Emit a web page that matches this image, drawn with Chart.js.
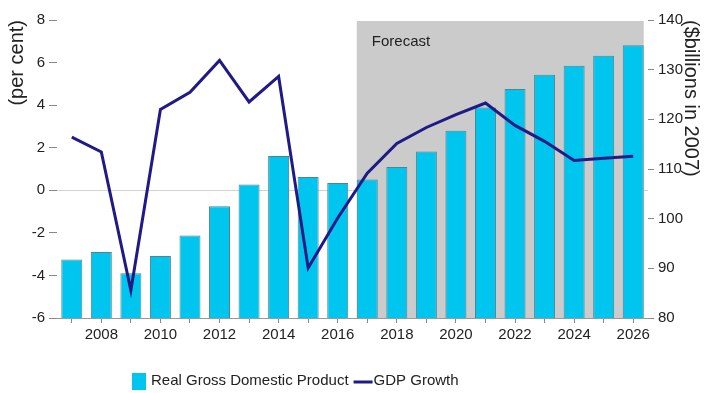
<!DOCTYPE html>
<html>
<head>
  <meta charset="utf-8">
  <script src="https://cdn.jsdelivr.net/npm/chart.js"></script>
  <style>
    body { margin: 0; background: #fff; }
  </style>
</head>
<body>
  <canvas id="gdpChart" width="704" height="393"></canvas>

  <script>
    // Years along the x axis
    var years = ['2007', '2008', '2009', '2010', '2011', '2012', '2013', '2014', '2015', '2016',
                 '2017', '2018', '2019', '2020', '2021', '2022', '2023', '2024', '2025', '2026'];

    // Real GDP, $billions in 2007 (right axis)
    var realGdp = [91.8, 93.3, 89.0, 92.5, 96.6, 102.5, 106.9, 112.6, 108.4, 107.2,
                   107.9, 110.4, 113.5, 117.7, 122.4, 126.1, 129.0, 130.8, 132.8, 134.9];

    // GDP growth, per cent (left axis)
    var gdpGrowth = [2.5, 1.8, -4.7, 3.8, 4.6, 6.1, 4.15, 5.35, -3.65, -1.3,
                     0.8, 2.2, 2.95, 3.55, 4.1, 3.05, 2.3, 1.4, 1.5, 1.6];

    // Axis ranges: [min, max, step]
    var growthAxis = [-6, 8, 2];
    var gdpAxis = [80, 140, 10];

    // Forecast period starts here
    var forecastStart = '2017';

    var FONT = '"Liberation Sans", Arial, sans-serif';
    var TEXT = '#222';
    Chart.defaults.font.family = FONT;
    Chart.defaults.color = TEXT;

    // Grey band behind the forecast years, with its label
    var forecastShade = {
      id: 'forecastShade',
      beforeDatasetsDraw: function(chart) {
        var meta = chart.getDatasetMeta(1);
        var first = meta.data[years.indexOf(forecastStart)];
        var last = meta.data[meta.data.length - 1];
        var area = chart.chartArea;
        var ctx = chart.ctx;
        var x0 = first.x - first.width / 2;
        var x1 = last.x + last.width / 2;
        ctx.save();
        ctx.fillStyle = '#cbcbcb';
        ctx.fillRect(x0, area.top + 1, x1 - x0, area.bottom - area.top - 1);
        ctx.fillStyle = TEXT;
        ctx.font = '15px ' + FONT;
        ctx.textBaseline = 'middle';
        ctx.fillText('Forecast', x0 + 15, area.top + 22);
        ctx.restore();
      }
    };

    // One-row legend under the x axis
    var bottomLegend = {
      id: 'bottomLegend',
      afterDraw: function(chart) {
        var line = chart.data.datasets[0];
        var bars = chart.data.datasets[1];
        var ctx = chart.ctx;
        var x = 132, y = 381;
        ctx.save();
        ctx.font = '15px ' + FONT;
        ctx.textBaseline = 'middle';
        ctx.fillStyle = bars.backgroundColor;
        ctx.fillRect(x, y - 8, 14, 17);
        x += 19;
        ctx.fillStyle = TEXT;
        ctx.fillText(bars.label, x, y);
        x += ctx.measureText(bars.label).width + 5;
        ctx.strokeStyle = line.borderColor;
        ctx.lineWidth = 3;
        ctx.beginPath();
        ctx.moveTo(x, y + 1);
        ctx.lineTo(x + 19, y + 1);
        ctx.stroke();
        x += 20;
        ctx.fillText(line.label, x, y);
        ctx.restore();
      }
    };

    new Chart(document.getElementById('gdpChart'), {
      type: 'bar',
      data: {
        labels: years,
        datasets: [{
          type: 'line',
          label: 'GDP Growth',
          data: gdpGrowth,
          yAxisID: 'y',
          borderColor: '#1f1a86',
          borderWidth: 3,
          pointRadius: 0,
          tension: 0,
          order: 1
        }, {
          label: 'Real Gross Domestic Product',
          data: realGdp,
          yAxisID: 'y1',
          backgroundColor: '#00c5ee',
          borderColor: '#4d8594',
          borderWidth: 1,
          barPercentage: 0.71,
          categoryPercentage: 1,
          order: 2
        }]
      },
      options: {
        responsive: false,
        animation: false,
        layout: { padding: { top: 20 } },
        plugins: {
          legend: { display: false },
          tooltip: { enabled: false }
        },
        scales: {
          x: {
            offset: true,
            grid: { offset: false, drawOnChartArea: false, tickLength: 5, tickColor: '#888' },
            border: { color: '#999' },
            ticks: {
              autoSkip: false,
              maxRotation: 0,
              padding: 3,
              font: { size: 15 },
              callback: function(value, index) {
                return index % 2 === 1 ? years[index] : '';
              }
            },
            afterFit: function(scale) { scale.height = 75; }
          },
          y: {
            position: 'left',
            min: growthAxis[0],
            max: growthAxis[1],
            ticks: { stepSize: growthAxis[2], padding: 4, font: { size: 15 } },
            grid: {
              color: function(ctx) { return ctx.tick && ctx.tick.value === 0 ? '#d2d2d2' : 'transparent'; },
              tickColor: '#888',
              tickLength: 8
            },
            border: { display: false },
            title: {
              display: true,
              text: '(per cent)',
              align: 'end',
              font: { size: 20 },
              padding: { top: 5, bottom: 0 }
            },
            afterFit: function(scale) { scale.width = 57; }
          },
          y1: {
            position: 'right',
            min: gdpAxis[0],
            max: gdpAxis[1],
            ticks: { stepSize: gdpAxis[2], padding: 4, font: { size: 15 } },
            grid: { drawOnChartArea: false, tickColor: '#888', tickLength: 6 },
            border: { display: false },
            title: {
              display: true,
              text: '($billions in 2007)',
              align: 'end',
              font: { size: 20 },
              padding: { top: 1, bottom: 0 }
            },
            afterFit: function(scale) { scale.width = 56; }
          }
        }
      },
      plugins: [forecastShade, bottomLegend]
    });
  </script>
</body>
</html>
